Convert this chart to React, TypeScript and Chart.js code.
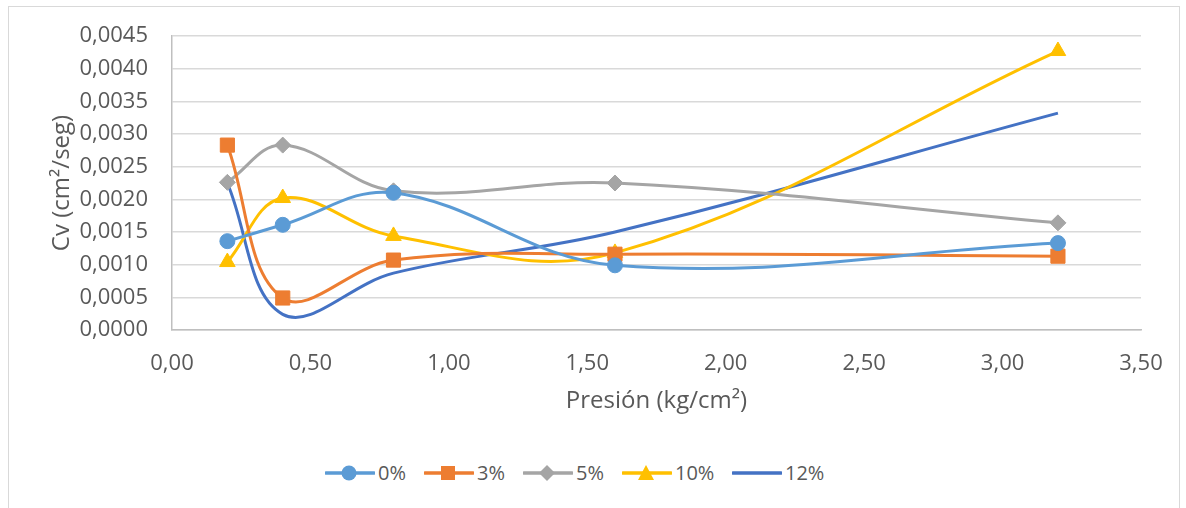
import React, { useEffect, useRef } from "react";
import { Chart, registerables } from "chart.js";

Chart.register(...registerables);

const presion = [0.2, 0.4, 0.8, 1.6, 3.2];
const serie0 = [0.00136, 0.00161, 0.0021, 0.00099, 0.00133];
const serie3 = [0.00283, 0.00049, 0.00107, 0.00116, 0.00113];
const serie5 = [0.00226, 0.00283, 0.00213, 0.00225, 0.00164];
const serie10 = [0.00104, 0.00202, 0.00144, 0.00118, 0.00427];
const serie12 = [0.00225, 0.00024, 0.00087, 0.0015, 0.00332];
const seriesNames = ["0%", "3%", "5%", "10%", "12%"];
const seriesColors = ["#5B9BD5", "#ED7D31", "#A5A5A5", "#FFC000", "#4472C4"];
const seriesMarkers = ["circle", "rect", "rectRot", "triangle", "none"];
const seriesValues = [serie0, serie3, serie5, serie10, serie12];
const xTitle = "Presión (kg/cm²)";
const yTitle = "Cv (cm²/seg)";

const FONT = "'Open Sans', 'Noto Sans', sans-serif";
const legendLefts = [316, 415, 514, 613, 723];

const markerRadius: Record<string, number> = { circle: 7.5, rect: 10, rectRot: 8, triangle: 9 };

function Icon({ color, marker }: { color: string; marker: string }) {
  let shape: React.ReactNode = null;
  if (marker === "circle") shape = <circle cx={24} cy={9} r={7.5} fill={color} />;
  if (marker === "rect") shape = <rect x={17} y={2} width={14} height={14} fill={color} />;
  if (marker === "rectRot") shape = <polygon points="24,1 32,9 24,17 16,9" fill={color} />;
  if (marker === "triangle") shape = <polygon points="24,1 32,16 16,16" fill={color} />;
  return (
    <svg width={50} height={18} style={{ display: "block" }}>
      <line x1={1} y1={9} x2={49} y2={9} stroke={color} strokeWidth={3.5} strokeLinecap="round" />
      {shape}
    </svg>
  );
}

export default function App() {
  const ref = useRef<HTMLCanvasElement | null>(null);

  useEffect(() => {
    if (!ref.current) return;
    const datasets = seriesNames.map((name, i) => ({
      label: name,
      data: presion.map((x, j) => ({ x, y: seriesValues[i][j] })),
      borderColor: seriesColors[i],
      backgroundColor: seriesColors[i],
      borderWidth: 3,
      pointStyle: seriesMarkers[i] === "none" ? "circle" : seriesMarkers[i],
      pointRadius: seriesMarkers[i] === "none" ? 0 : markerRadius[seriesMarkers[i]],
      pointHoverRadius: 0,
      pointBorderWidth: 1,
      tension: 0.38,
      fill: false,
    }));
    const chart = new Chart(ref.current, {
      type: "line",
      data: { datasets },
      options: {
        animation: false,
        responsive: false,
        events: [],
        layout: { padding: { top: 29, right: 38, left: 0, bottom: 0 } },
        plugins: { legend: { display: false }, tooltip: { enabled: false } },
        scales: {
          x: {
            type: "linear",
            min: 0,
            max: 3.5,
            afterFit: (s: any) => {
              s.height = 117;
              s.paddingLeft = 0;
              s.paddingRight = 0;
            },
            ticks: {
              stepSize: 0.5,
              padding: 21,
              color: "#595959",
              font: { family: FONT, size: 22 },
              callback: (v: any) => Number(v).toFixed(2).replace(".", ","),
            },
            grid: { display: false, drawTicks: false },
            border: { display: true, color: "#BFBFBF", width: 1.5 },
            title: {
              display: true,
              text: xTitle,
              color: "#595959",
              font: { family: FONT, size: 24 },
              padding: { top: 0, bottom: 31 },
            },
          },
          y: {
            type: "linear",
            min: 0,
            max: 0.0045,
            afterFit: (s: any) => {
              s.width = 163;
              s.paddingTop = 0;
              s.paddingBottom = 0;
            },
            ticks: {
              stepSize: 0.0005,
              padding: 24,
              color: "#595959",
              font: { family: FONT, size: 22 },
              callback: (v: any) => Number(v).toFixed(4).replace(".", ","),
            },
            grid: { color: "#D9D9D9", lineWidth: 1.5, drawTicks: false },
            border: { display: true, color: "#BFBFBF", width: 1.5 },
            title: {
              display: true,
              text: yTitle,
              color: "#595959",
              font: { family: FONT, size: 24 },
              padding: { top: 39, bottom: 0 },
            },
          },
        },
      },
    } as any);
    return () => chart.destroy();
  }, []);

  return (
    <div
      style={{
        position: "absolute",
        left: 8,
        top: 6,
        width: 1170,
        height: 520,
        border: "1px solid #D9D9D9",
        background: "#fff",
        fontFamily: FONT,
      }}
    >
      <canvas ref={ref} width={1170} height={440} style={{ position: "absolute", left: 0, top: 0 }} />
      {seriesNames.map((name, i) => (
        <div
          key={name}
          style={{
            position: "absolute",
            left: legendLefts[i],
            top: 452,
            display: "flex",
            alignItems: "center",
            color: "#595959",
            fontSize: 20,
          }}
        >
          <Icon color={seriesColors[i]} marker={seriesMarkers[i]} />
          <span style={{ marginLeft: 3 }}>{name}</span>
        </div>
      ))}
    </div>
  );
}
